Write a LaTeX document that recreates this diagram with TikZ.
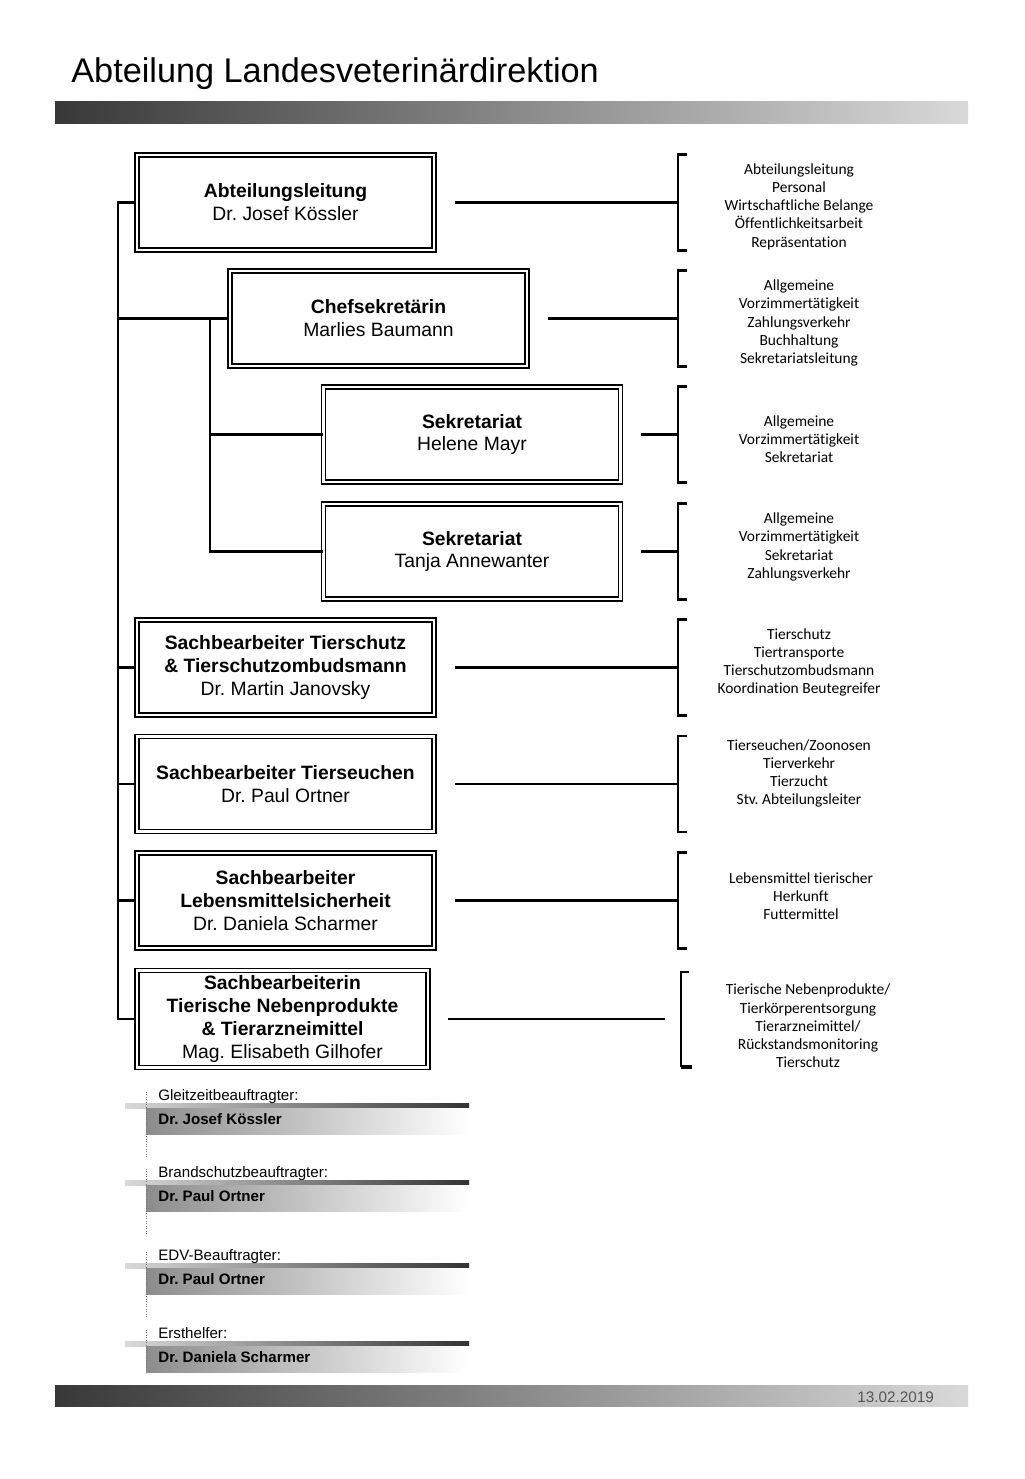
\documentclass[tikz,border=0pt]{standalone}
\usepackage{fontspec}
\setmainfont{Liberation Sans}
\newfontfamily\calibri[Ligatures=NoCommon]{Carlito}
\usepackage{tikz}
\usetikzlibrary{positioning}
\definecolor{VGray}{HTML}{555555}
\frenchspacing

\begin{document}
\begin{tikzpicture}[
  x=0.02cm,y=-0.02cm,
  every node/.style={inner sep=0pt},
  unit/.style={draw,double,line width=0.9pt,double distance=1.3pt,
    minimum width=5.94cm,minimum height=1.9cm,align=center,
    font=\fontsize{11}{13}\selectfont},
  task/.style={align=center,font=\calibri\fontsize{8.8}{10.4}\selectfont},
  link/.style={line width=1.25pt},
  brak/.style={line width=1.5pt},
  role/.style={anchor=base west,font=\fontsize{8.6}{10}\selectfont},
  who/.style={anchor=base west,font=\bfseries\fontsize{8.6}{10}\selectfont},
  dots/.style={densely dotted,line width=0.4pt,color=black!55}
]
  \useasboundingbox (0,0) rectangle (1024,1479);

  % header
  \node[anchor=base west,font=\fontsize{19.5}{22}\selectfont] (title) at (71,83)
    {Abteilung Landesveterinärdirektion};
  \shade[left color=black!78,right color=black!15] (55,102) rectangle (968,124);

  % units
  \node[unit] (lead) at (285.5,202.5) {\textbf{Abteilungsleitung}\\Dr. Josef Kössler};
  \node[unit] (chef) at (378.5,318.5) {\textbf{Chefsekretärin}\\Marlies Baumann};
  \node[unit] (sek1) at (472,434.5) {\textbf{Sekretariat}\\Helene Mayr};
  \node[unit] (sek2) at (472,551.5) {\textbf{Sekretariat}\\Tanja Annewanter};
  \node[unit] (schutz) at (285.5,667.5) {\textbf{Sachbearbeiter Tierschutz}\\
    \textbf{\& Tierschutzombudsmann}\\Dr. Martin Janovsky};
  \node[unit] (seuch) at (285.5,784) {\textbf{Sachbearbeiter Tierseuchen}\\Dr. Paul Ortner};
  \node[unit] (lebens) at (285.5,900.5) {\textbf{Sachbearbeiter}\\
    \textbf{Lebensmittelsicherheit}\\Dr. Daniela Scharmer};
  \node[unit,minimum width=5.82cm,minimum height=1.94cm] (neben) at (282.5,1019)
    {\textbf{Sachbearbeiterin}\\\textbf{Tierische Nebenprodukte}\\
    \textbf{\& Tierarzneimittel}\\Mag. Elisabeth Gilhofer};

  % tree on the left
  \coordinate (trunk) at (118,0);
  \coordinate (branch) at (210,0);
  \draw[link] (lead.west) -- (lead.west -| trunk) -- (neben.west -| trunk) -- (neben.west);
  \foreach \n in {chef,schutz,seuch,lebens}
    \draw[link] (\n.west -| trunk) -- (\n.west);
  \draw[link] (chef.west -| branch) |- (sek2.west);
  \draw[link] (sek1.west -| branch) -- (sek1.west);

  % links to the task brackets
  \coordinate (hook) at (678,0);
  \foreach \n in {lead,chef,sek1,sek2,schutz,seuch,lebens} {
    \draw[link] ([xshift=0.4cm]\n.east) -- (\n.east -| hook) coordinate (k\n);
    \draw[brak] (k\n) ++(9,-48) -- ++(-9,0) -- ++(0,96) -- ++(9,0);
  }
  \coordinate (kneben) at (681,1019);
  \draw[link] ([xshift=0.38cm]neben.east) -- ([xshift=-0.32cm]kneben);
  \draw[brak] (kneben) ++(8,-47) -- ++(-8,0) -- ++(0,95);
  \draw[line width=2pt] (kneben) ++(0,48) -- ++(11,0);

  % tasks
  \node[task] (tlead) at (799,206.5) {Abteilungsleitung\\Personal\\Wirtschaftliche Belange\\
    Öffentlichkeitsarbeit\\Repräsentation};
  \node[task] (tchef) at (799,323) {Allgemeine\\Vorzimmertätigkeit\\Zahlungsverkehr\\
    Buchhaltung\\Sekretariatsleitung};
  \node[task] (tsek1) at (799,439) {Allgemeine\\Vorzimmertätigkeit\\Sekretariat};
  \node[task] (tsek2) at (799,547) {Allgemeine\\Vorzimmertätigkeit\\Sekretariat\\Zahlungsverkehr};
  \node[task] (tschutz) at (799,662.5) {Tierschutz\\Tiertransporte\\Tierschutzombudsmann\\
    Koordination Beutegreifer};
  \node[task] (tseuch) at (799,773.5) {Tierseuchen/Zoonosen\\Tierverkehr\\Tierzucht\\
    Stv. Abteilungsleiter};
  \node[task] (tlebens) at (801,896) {Lebensmittel tierischer\\Herkunft\\Futtermittel};
  \node[task] (tneben) at (808,1026) {Tierische Nebenprodukte/\\Tierkörperentsorgung\\
    Tierarzneimittel/\\Rückstandsmonitoring\\Tierschutz};

  % special duties
  \foreach \y/\r/\w/\e [count=\i] in {1103/Gleitzeitbeauftragter:/Dr. Josef Kössler/54,
      1180/Brandschutzbeauftragter:/Dr. Paul Ortner/55,
      1263/EDV-Beauftragter:/Dr. Paul Ortner/54,
      1341/Ersthelfer:/Dr. Daniela Scharmer/31} {
    \shade[left color=black!15,middle color=black!35,right color=black!80]
      (125,\y) rectangle (469,\y+5);
    \shade[left color=black!45,right color=white] (146,\y+5) rectangle (469,\y+31);
    \draw[dots] (146,\y-11) -- (146,\y+\e);
    \node[role] (role\i) at (158,\y-3) {\r};
    \node[who] (who\i) at (158,\y+21) {\w};
  }

  % footer
  \shade[left color=black!78,right color=black!15] (55,1385) rectangle (968,1406);
  \node[font=\fontsize{8.7}{10}\selectfont,text=VGray] (date) at (895.5,1397) {13.02.2019};
\end{tikzpicture}
\end{document}
